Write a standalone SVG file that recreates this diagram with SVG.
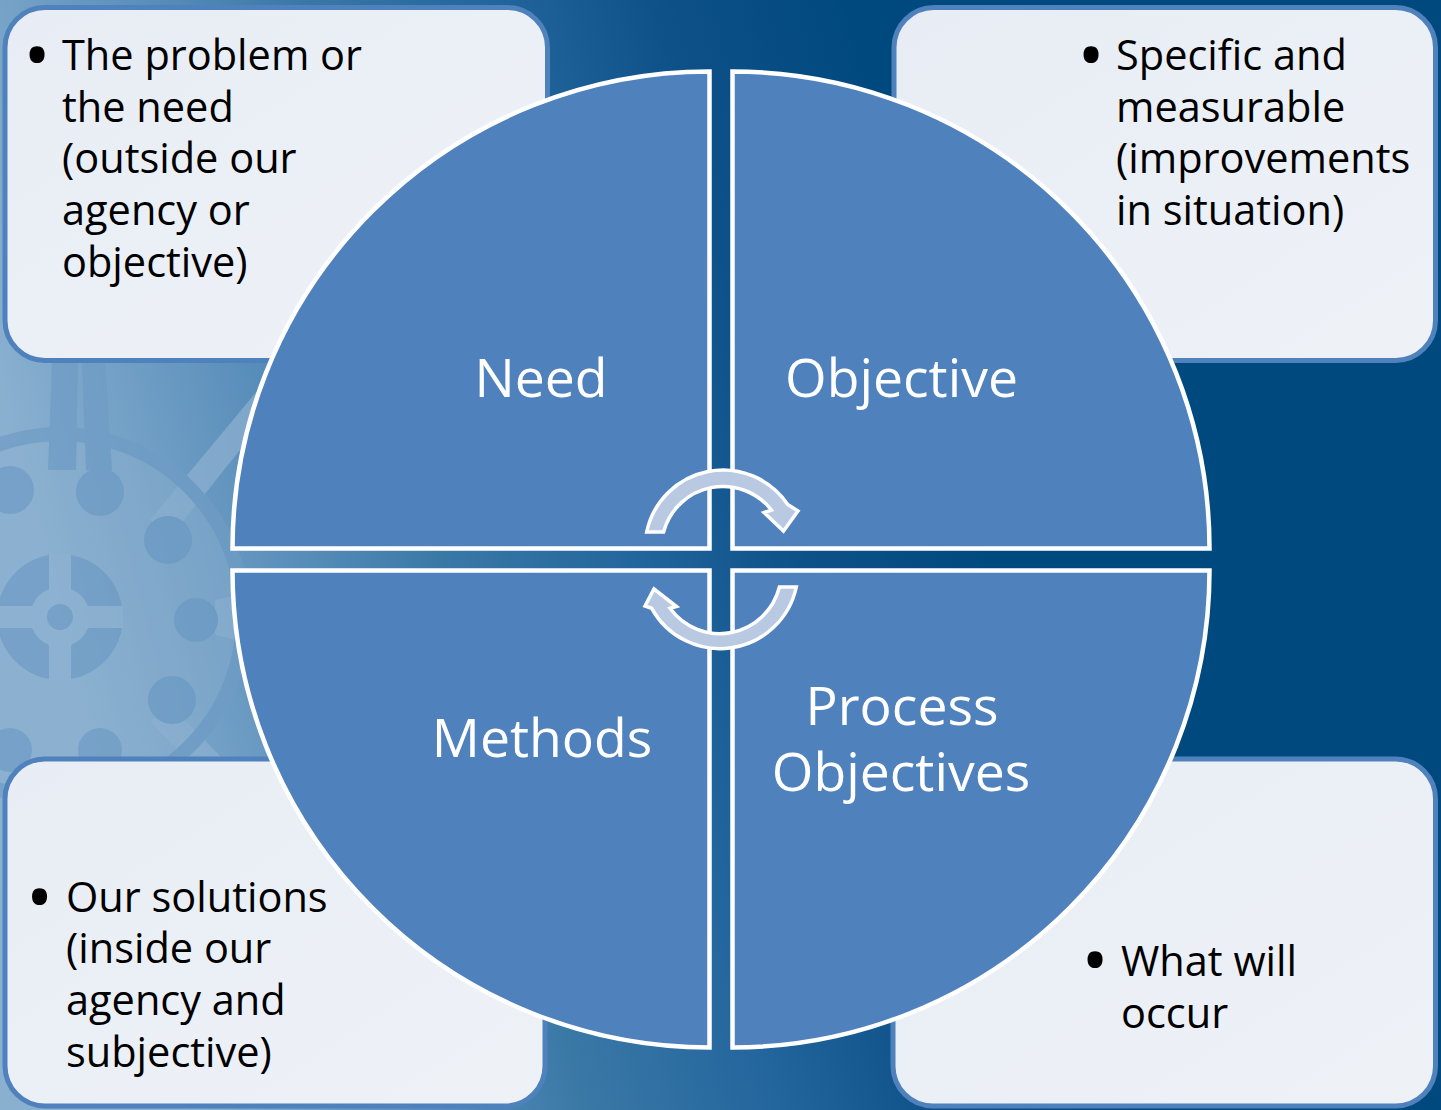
<svg xmlns="http://www.w3.org/2000/svg" width="1441" height="1110" viewBox="0 0 1441 1110">
<style>
.box{fill:url(#boxg);stroke:#4f81bd;stroke-width:5}
.btxt{font-family:"Open Sans","Noto Sans","Liberation Sans",sans-serif;font-size:41.5px;fill:#000}
.bul{font-family:"Open Sans","Noto Sans","Liberation Sans",sans-serif;font-size:72px;fill:#000}
.quad{fill:#4f81bd;stroke:#fff;stroke-width:4.5}
.lbl{font-family:"Open Sans","Noto Sans","Liberation Sans",sans-serif;font-size:53.5px;fill:#fff;text-anchor:middle}
.arr{fill:#b9c9e1;stroke:#fff;stroke-width:3.5;stroke-linejoin:miter}
.emd{fill:#6f9cc5}
.eml{fill:#8fb2d1}
</style>
<defs>
<linearGradient id="bg" gradientUnits="userSpaceOnUse" x1="-100" y1="0" x2="791" y2="-229">
<stop offset="0" stop-color="#8ab0d0"/>
<stop offset="0.26" stop-color="#5a8fbb"/>
<stop offset="0.42" stop-color="#3a78a6"/>
<stop offset="0.63" stop-color="#22659d"/>
<stop offset="0.79" stop-color="#0f5189"/>
<stop offset="1" stop-color="#00497f"/>
</linearGradient>
<linearGradient id="boxg" x1="0" y1="0" x2="1" y2="1">
<stop offset="0" stop-color="#e8edf5"/>
<stop offset="1" stop-color="#eef2f7"/>
</linearGradient>
</defs>
<rect x="0" y="0" width="1441" height="1110" fill="url(#bg)"/>
<g id="emblem" opacity="0.7">
<circle cx="60" cy="617" r="190" class="eml" opacity="0.6"/>
<polygon class="eml" points="150,520 262,385 272,410 172,535"/>
<polygon class="eml" points="170,705 268,805 250,820 150,722"/>
<polygon class="eml" points="215,600 280,585 280,650 215,635"/>
<polygon class="emd" points="52,362 78,362 76,470 48,470"/>
<polygon class="emd" points="82,362 105,362 112,470 86,470"/>
<circle cx="60" cy="617" r="183" fill="none" stroke="#6f9cc5" stroke-width="14"/>
<circle cx="10" cy="490" r="24" class="emd"/>
<circle cx="100" cy="492" r="24" class="emd"/>
<circle cx="168" cy="540" r="24" class="emd"/>
<circle cx="196" cy="620" r="22" class="emd"/>
<circle cx="172" cy="700" r="24" class="emd"/>
<circle cx="100" cy="750" r="22" class="emd"/>
<circle cx="10" cy="750" r="22" class="emd"/>
<circle cx="60" cy="617" r="63" class="emd"/>
<rect x="49" y="554" width="22" height="126" class="eml"/>
<rect x="-3" y="606" width="126" height="22" class="eml"/>
<circle cx="60" cy="617" r="30" class="eml"/>
<circle cx="60" cy="617" r="13" class="emd"/>
</g>
<g id="box-need">
<rect class="box" x="5" y="7.5" width="542.5" height="353" rx="40"/>
<text class="bul" x="23.5" y="81">•</text>
<text class="btxt" x="62" y="70">The problem or</text>
<text class="btxt" x="62" y="121.7">the need</text>
<text class="btxt" x="62" y="173.3">(outside our</text>
<text class="btxt" x="62" y="225">agency or</text>
<text class="btxt" x="62" y="276.7">objective)</text>
</g>
<g id="box-objective">
<rect class="box" x="894" y="7.5" width="541.5" height="353" rx="40"/>
<text class="bul" x="1077.5" y="81">•</text>
<text class="btxt" x="1116" y="70">Specific and</text>
<text class="btxt" x="1116" y="121.7">measurable</text>
<text class="btxt" x="1116" y="173.3">(improvements</text>
<text class="btxt" x="1116" y="225">in situation)</text>
</g>
<g id="box-methods">
<rect class="box" x="5" y="759" width="540" height="347" rx="40"/>
<text class="bul" x="26" y="923">•</text>
<text class="btxt" x="66" y="911.7">Our solutions</text>
<text class="btxt" x="66" y="963.3">(inside our</text>
<text class="btxt" x="66" y="1015">agency and</text>
<text class="btxt" x="66" y="1066.7">subjective)</text>
</g>
<g id="box-process">
<rect class="box" x="893" y="759" width="542.5" height="347" rx="40"/>
<text class="bul" x="1081.5" y="986">•</text>
<text class="btxt" x="1121" y="976">What will</text>
<text class="btxt" x="1121" y="1028">occur</text>
</g>
<g id="quad-need">
<path class="quad" d="M709.5,548.5 L232.5,548.5 A477,477 0 0 1 709.5,71.5 Z"/>
<text class="lbl" x="541" y="397">Need</text>
</g>
<g id="quad-objective">
<path class="quad" d="M732.5,548.5 L732.5,71.5 A477,477 0 0 1 1209.5,548.5 Z"/>
<text class="lbl" x="901.5" y="397">Objective</text>
</g>
<g id="quad-process">
<path class="quad" d="M732.5,570.5 L1209.5,570.5 A477,477 0 0 1 732.5,1047.5 Z"/>
<text class="lbl" x="902" y="725">Process</text>
<text class="lbl" x="901" y="791">Objectives</text>
</g>
<g id="quad-methods">
<path class="quad" d="M709.5,570.5 L709.5,1047.5 A477,477 0 0 1 232.5,570.5 Z"/>
<text class="lbl" x="542" y="757">Methods</text>
</g>
<g id="connectors">
<path class="arr" d="M646.7,532 A78,78 0 0 1 787.7,504.4 L798,511 L783.5,531 L764,512.5 L771.5,510.1 A61.5,61.5 0 0 0 663.6,532 Z"/>
<path class="arr" d="M796.3,587 A78,78 0 0 1 651.7,608.3 L645,606 L654,589 L676.5,606.5 L670,608.3 A61.5,61.5 0 0 0 779.4,587 Z"/>
</g>
</svg>
